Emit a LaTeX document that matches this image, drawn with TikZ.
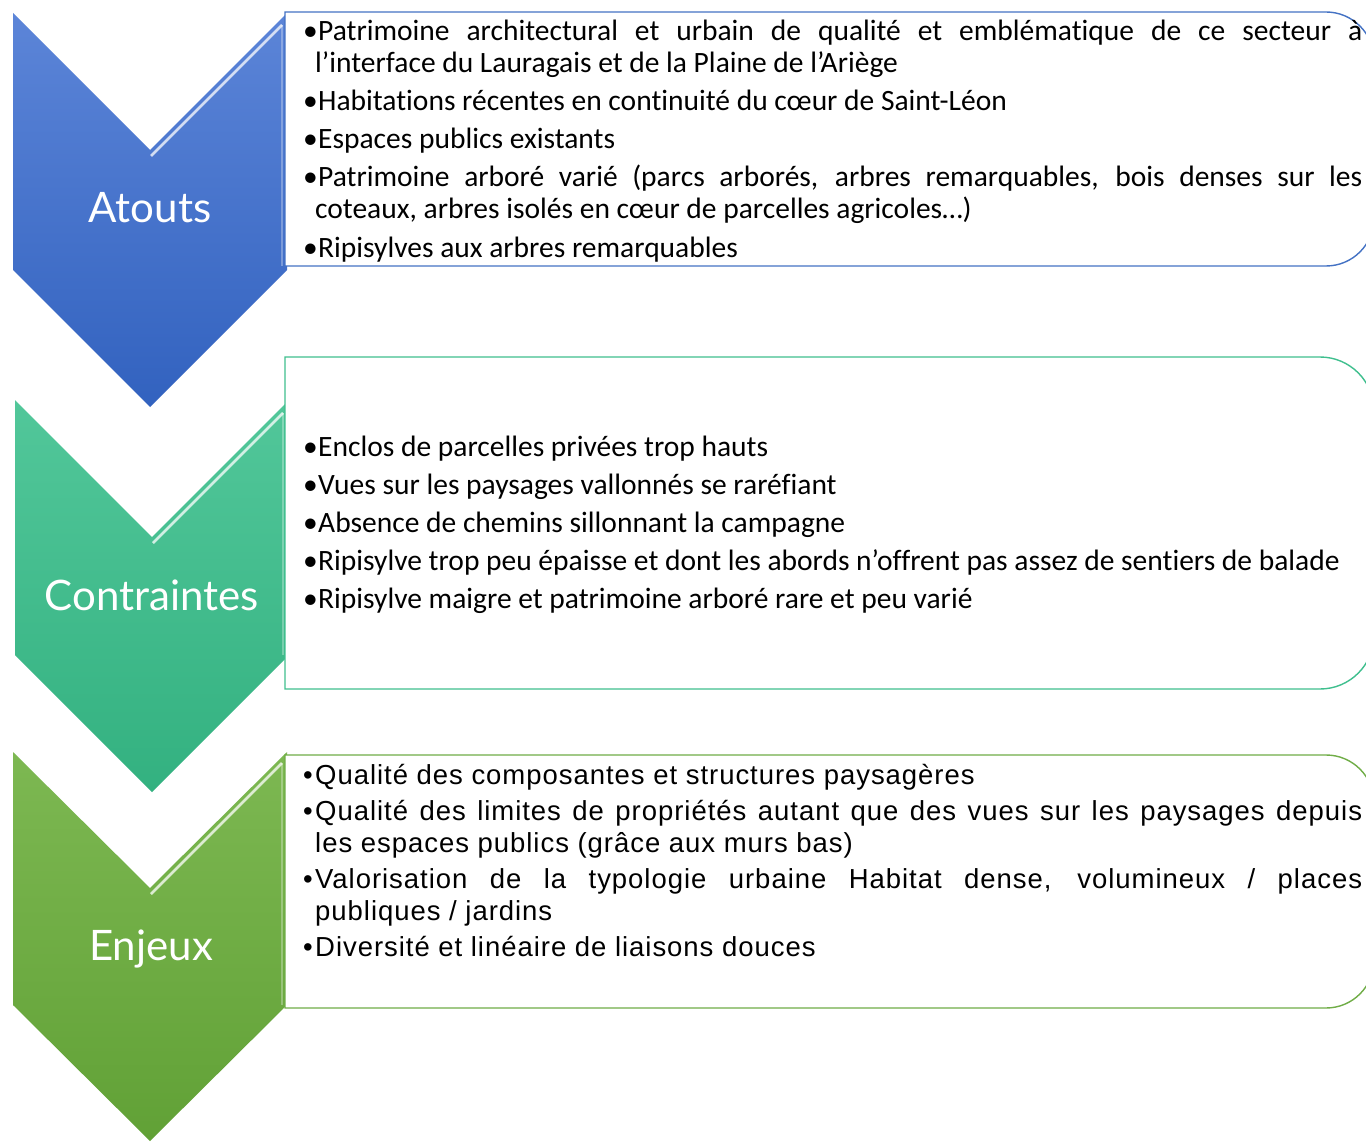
\documentclass[tikz,border=0pt]{standalone}
\usepackage{fontspec}
\setmainfont{Carlito}[Ligatures=NoCommon]
\newfontfamily\titrefont{Lato}
\newfontfamily\enjeuxfont{Liberation Sans}[LetterSpace=3.5]
\usetikzlibrary{calc}
\definecolor{atoutsHaut}{HTML}{5C85D8}
\definecolor{atoutsBas}{HTML}{3262BF}
\definecolor{atoutsTrait}{HTML}{4472C4}
\definecolor{contrHaut}{HTML}{52C79A}
\definecolor{contrBas}{HTML}{33B180}
\definecolor{contrTrait}{HTML}{3FBF8E}
\definecolor{enjeuxHaut}{HTML}{7DB852}
\definecolor{enjeuxBas}{HTML}{61A136}
\definecolor{enjeuxTrait}{HTML}{70AD47}
\newcommand{\puce}[1]{\par\hangindent=12pt\hangafter=1\noindent\strut\makebox[#1][l]{\textbullet}}
\tikzset{
  % chevrons de gauche
  chevron/.style={draw=none},
  reflet/.style={white,opacity=0.75,line width=2.5pt},
  reflet doux/.style={white,opacity=0.3,line width=2pt},
  % cadres de texte
  cadre/.style={fill=white,line width=1.4pt},
  titre/.style={white,anchor=base,inner sep=0pt,font=\titrefont\fontsize{42}{48}\selectfont},
  liste/.style={anchor=north west,inner sep=0pt,text width=1059pt,align=justify,
    font=\fontsize{29.5}{32}\selectfont},
  liste enjeux/.style={liste,font=\enjeuxfont\fontsize{27.5}{32}\selectfont}
}
\begin{document}
\begin{tikzpicture}[x=1pt,y=-1pt]
  \clip (0,0) rectangle (1366,1142);
  \fill[white] (0,0) rectangle (1366,1142);
  % Atouts
  \shade[chevron,top color=atoutsHaut,bottom color=atoutsBas]
    (13,13) -- (150,150) -- (287,13) -- (287,270) -- (150,407) -- (13,270) -- cycle;
  \draw[reflet] (151,156) -- (282,25);
  \draw[reflet doux] (282,25) -- (282,266);
  % Contraintes
  \shade[chevron,top color=contrHaut,bottom color=contrBas]
    (15,400) -- (152,537) -- (289,400) -- (289,655) -- (152,792) -- (15,655) -- cycle;
  \draw[reflet] (153,543) -- (283,413);
  \draw[reflet doux] (283,413) -- (283,655);
  % Enjeux
  \shade[chevron,top color=enjeuxHaut,bottom color=enjeuxBas]
    (13,752) -- (150,888) -- (287,752) -- (287,1005) -- (150,1141) -- (13,1005) -- cycle;
  \draw[reflet] (151,894) -- (282,763);
  \draw[reflet doux] (282,763) -- (282,1005);
  % cadres
  \draw[cadre,draw=atoutsTrait] (285,12) -- (1326,12) arc[start angle=-90,end angle=0,radius=48]
    -- (1374,218) arc[start angle=0,end angle=90,radius=48] -- (285,266) -- cycle;
  \draw[cadre,draw=contrTrait] (285,357) -- (1320,357) arc[start angle=-90,end angle=0,radius=54]
    -- (1374,635) arc[start angle=0,end angle=90,radius=54] -- (285,689) -- cycle;
  \draw[cadre,draw=enjeuxTrait] (285,755) -- (1326,755) arc[start angle=-90,end angle=0,radius=48]
    -- (1374,960) arc[start angle=0,end angle=90,radius=48] -- (285,1008) -- cycle;
  % titres
  \node[titre] (atouts) at (150,223) {Atouts};
  \node[titre] (contraintes) at (152,610) {Contraintes};
  \node[titre] (enjeux) at (151,960) {Enjeux};
  % listes
  \node[liste] (atoutsListe) at (303,1.6) {\setlength{\parskip}{6.25pt}%
    \puce{15pt}Patrimoine architectural et urbain de qualité et emblématique de ce secteur à\linebreak
      l’interface du Lauragais et de la Plaine de l’Ariège
    \puce{15pt}Habitations récentes en continuité du cœur de Saint-Léon
    \puce{15pt}Espaces publics existants
    \puce{15pt}Patrimoine arboré varié (parcs arborés, arbres remarquables, bois denses sur les\linebreak
      coteaux, arbres isolés en cœur de parcelles agricoles…)
    \puce{15pt}Ripisylves aux arbres remarquables};
  \node[liste] (contraintesListe) at (303,418.6) {\setlength{\parskip}{6pt}%
    \puce{15pt}Enclos de parcelles privées trop hauts
    \puce{15pt}Vues sur les paysages vallonnés se raréfiant
    \puce{15pt}Absence de chemins sillonnant la campagne
    \puce{15pt}Ripisylve trop peu épaisse et dont les abords n’offrent pas assez de sentiers de balade
    \puce{15pt}Ripisylve maigre et patrimoine arboré rare et peu varié};
  \node[liste enjeux] (enjeuxListe) at (303,748.6) {\setlength{\parskip}{4pt}%
    \puce{12pt}Qualité des composantes et structures paysagères
    \puce{12pt}Qualité des limites de propriétés autant que des vues sur les paysages depuis\linebreak
      les espaces publics (grâce aux murs bas)
    \puce{12pt}Valorisation de la typologie urbaine Habitat dense, volumineux / places\linebreak
      publiques / jardins
    \puce{12pt}Diversité et linéaire de liaisons douces};
\end{tikzpicture}
\end{document}
